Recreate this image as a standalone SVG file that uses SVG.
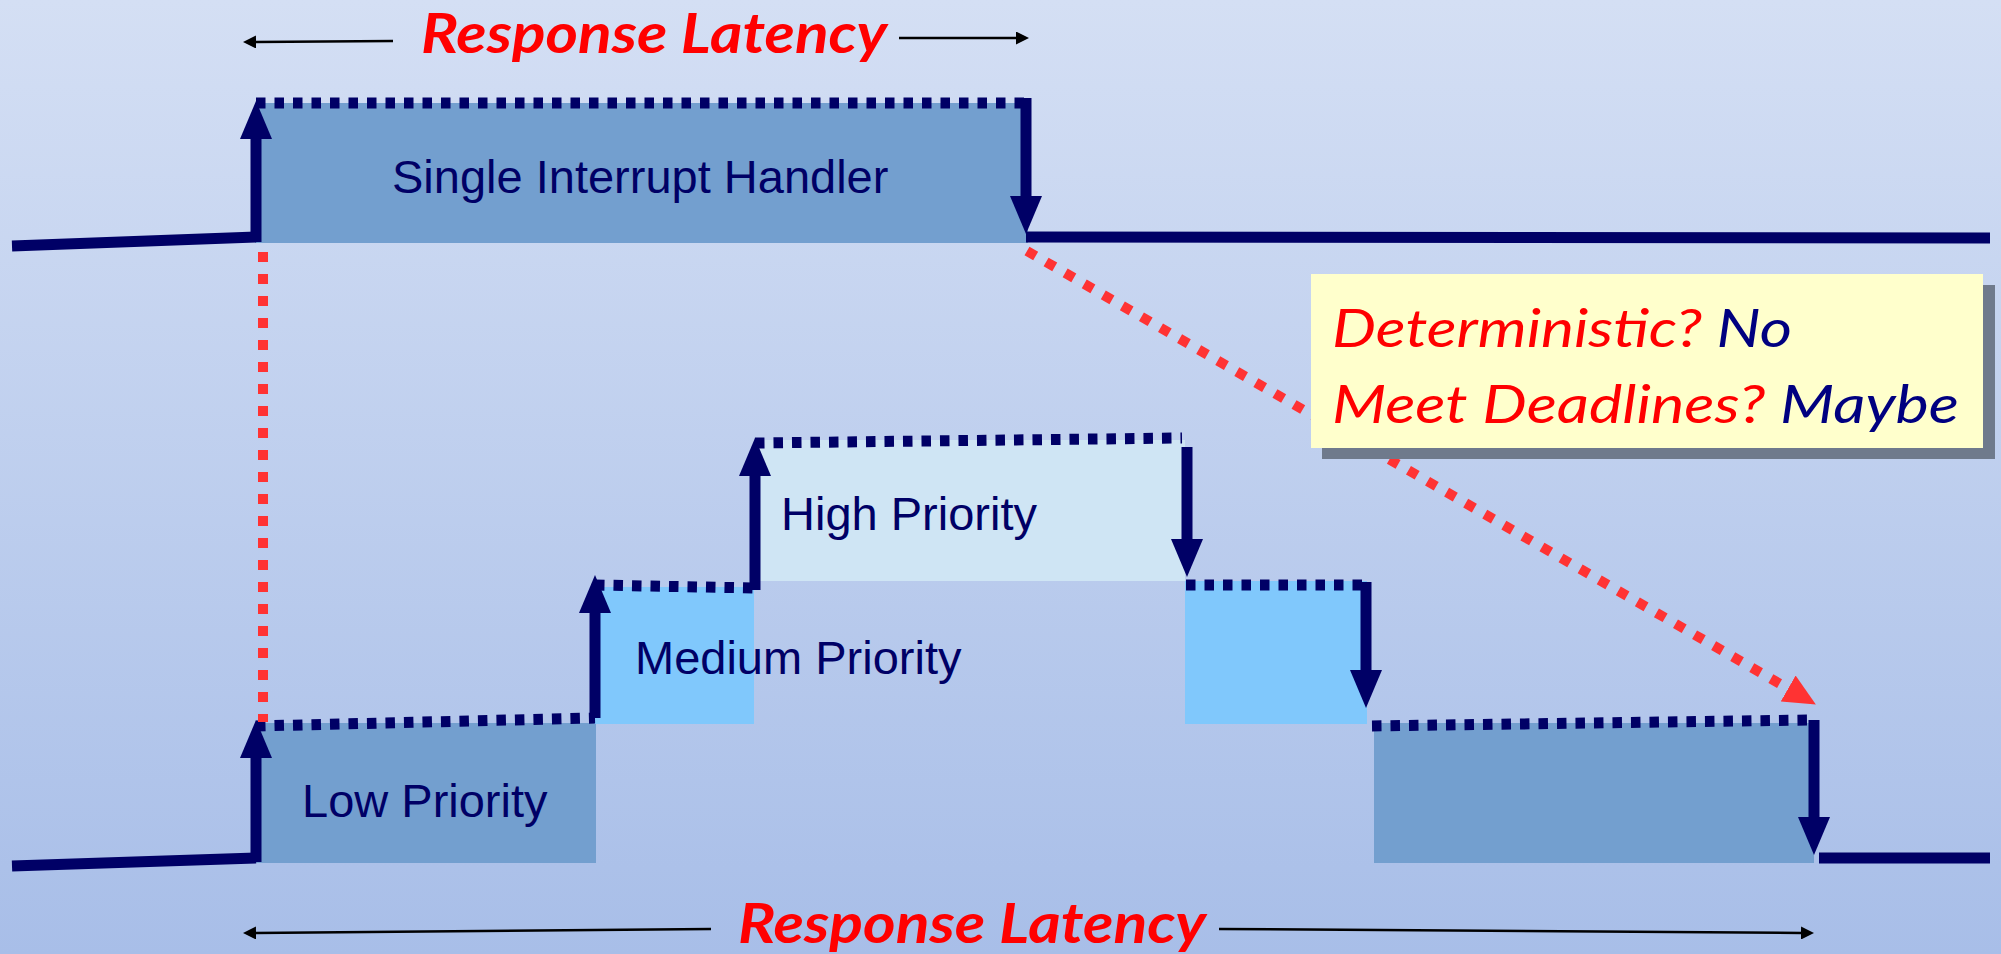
<svg xmlns="http://www.w3.org/2000/svg" width="2001" height="954" viewBox="0 0 2001 954">
<defs>
  <linearGradient id="bg" x1="0" y1="0" x2="0" y2="1">
    <stop offset="0" stop-color="#D4DFF4"/>
    <stop offset="1" stop-color="#A8BEE8"/>
  </linearGradient>
  <marker id="ah" markerUnits="userSpaceOnUse" markerWidth="38" markerHeight="32" viewBox="0 0 38 32" refX="1" refY="16" orient="auto">
    <path d="M0,0 L38,16 L0,32 z" fill="#000066"/>
  </marker>
  <marker id="ahRed" markerUnits="userSpaceOnUse" markerWidth="32" markerHeight="30" viewBox="0 0 32 30" refX="1" refY="15" orient="auto">
    <path d="M0,0 L32,15 L0,30 z" fill="#FF3333"/>
  </marker>
  <marker id="ahBlk" markerUnits="userSpaceOnUse" markerWidth="13" markerHeight="13" viewBox="0 0 13 13" refX="1" refY="6.5" orient="auto">
    <path d="M0,0 L13,6.5 L0,13 z" fill="#000000"/>
  </marker>
  <style>
    .dark { fill: #739FCF; }
    .med { fill: #80C8FC; }
    .high { fill: #CFE5F4; }
    .lbl { font-family: "Liberation Sans", Arial, sans-serif; font-size: 47px; fill: #000066; }
    .navy { fill: none; stroke: #000066; stroke-width: 11; }
    .dash { fill: none; stroke: #000066; stroke-width: 11; stroke-dasharray: 9.5 9; }
    .arr { fill: none; stroke: #000066; stroke-width: 11; marker-end: url(#ah); }
    .red { fill: none; stroke: #FF3333; stroke-width: 10; stroke-dasharray: 10 12; }
    .blk { fill: none; stroke: #000000; stroke-width: 2.5; marker-end: url(#ahBlk); }
    .title { font-family: Lato, "Liberation Sans", sans-serif; font-weight: bold; font-style: italic; font-size: 56px; fill: #FF0000; }
    .note { font-family: Lato, "Liberation Sans", sans-serif; font-style: italic; font-size: 53px; }
  </style>
</defs>
<rect x="0" y="0" width="2001" height="954" fill="url(#bg)"/>

<g id="handler">
  <rect class="dark" x="255" y="103" width="773" height="140"/>
  <text class="lbl" x="392" y="193">Single Interrupt Handler</text>
</g>
<g id="low1">
  <rect class="dark" x="255" y="723" width="341" height="140"/>
  <text class="lbl" x="302" y="817">Low Priority</text>
</g>
<g id="medium1">
  <rect class="med" x="594" y="587" width="160" height="137"/>
</g>
<g id="high">
  <rect class="high" x="755" y="440" width="430" height="141"/>
  <text class="lbl" x="781" y="530">High Priority</text>
</g>
<g id="medium2">
  <rect class="med" x="1185" y="581" width="182" height="143"/>
</g>
<g id="low2">
  <rect class="dark" x="1374" y="723" width="440" height="140"/>
</g>
<g id="medium1-label">
  <text class="lbl" x="635" y="674">Medium Priority</text>
</g>

<g id="connectors">
  <!-- baselines -->
  <path class="navy" d="M12,246 L256,237"/>
  <path class="navy" d="M1026,237 L1990,238"/>
  <path class="navy" d="M12,866 L256,858"/>
  <path class="navy" d="M1819,858 L1990,858"/>
  <!-- dashed tops -->
  <path class="dash" d="M256,103 L1026,103"/>
  <path class="dash" d="M256,726 L595,718"/>
  <path class="dash" d="M595,585 L754,588"/>
  <path class="dash" d="M755,443 L1182,438"/>
  <path class="dash" d="M1186,585 L1366,585"/>
  <path class="dash" d="M1372,726 L1812,720"/>
  <!-- arrows -->
  <path class="arr" d="M256,242 L256,138"/>
  <path class="arr" d="M1026,98 L1026,197"/>
  <path class="arr" d="M256,862 L256,757"/>
  <path class="arr" d="M595,718 L595,612"/>
  <path class="arr" d="M755,590 L755,475"/>
  <path class="arr" d="M1187,447 L1187,540"/>
  <path class="arr" d="M1366,582 L1366,671"/>
  <path class="arr" d="M1814,720 L1814,818"/>
  <!-- red dotted -->
  <path class="red" d="M263,252 L263,722"/>
  <path class="red" d="M1027,251 L1789,689" marker-end="url(#ahRed)"/>
</g>

<g id="callout">
  <rect x="1322" y="285" width="673" height="174" fill="#6F7A8C"/>
  <rect x="1311" y="274" width="672" height="174" fill="#FFFFCC"/>
  <text class="note" x="1332" y="347" textLength="460" lengthAdjust="spacingAndGlyphs"><tspan fill="#FF0000">Deterministic? </tspan><tspan fill="#000080">No</tspan></text>
  <text class="note" x="1332" y="423" textLength="627" lengthAdjust="spacingAndGlyphs"><tspan fill="#FF0000">Meet Deadlines? </tspan><tspan fill="#000080">Maybe</tspan></text>
</g>

<g id="latency-top">
  <path class="blk" d="M393,41 L255,42"/>
  <path class="blk" d="M899,38 L1017,38"/>
  <text class="title" x="421" y="53" textLength="466" lengthAdjust="spacingAndGlyphs">Response Latency</text>
</g>
<g id="latency-bottom">
  <path class="blk" d="M711,929 L255,933"/>
  <path class="blk" d="M1219,929 L1802,933"/>
  <text class="title" x="738" y="943" textLength="468" lengthAdjust="spacingAndGlyphs">Response Latency</text>
</g>
</svg>
